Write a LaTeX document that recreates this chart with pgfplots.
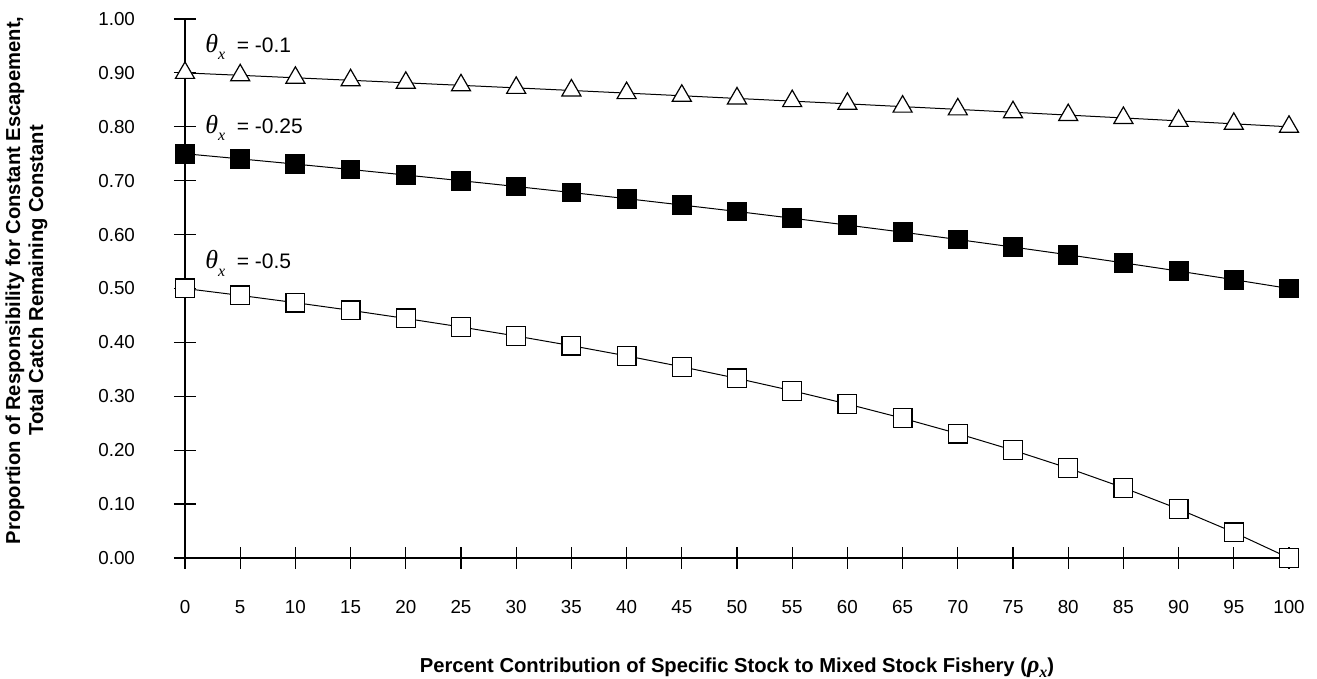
\documentclass[border=0pt]{standalone}
\usepackage{pgfplots}
\pgfplotsset{compat=1.18}
\usepackage{fontspec}
\setmainfont{Liberation Sans}
\newfontfamily\tnr{Liberation Serif}
\newcommand{\thx}{{\tnr\itshape\fontsize{13}{13}\selectfont θ}\raisebox{-3.8pt}{\tnr\itshape\fontsize{8}{8}\selectfont x}}
\begin{document}
\begin{tikzpicture}
\begin{axis}[
  scale only axis, width=552pt, height=269.5pt,
  xmin=0, xmax=100, ymin=0, ymax=1,
  axis x line=bottom, axis y line=left,
  axis line style={-, line width=0.7pt},
  clip=false,
  xtick={0,5,...,100},
  ytick={0,0.1,...,1.0},
  tick align=center, major tick length=11pt,
  tick style={line width=0.6pt, black},
  /pgf/number format/assume math mode=true,
  ticklabel style={font=\fontsize{9.4}{11}\selectfont},
  yticklabel style={/pgf/number format/fixed, /pgf/number format/fixed zerofill, /pgf/number format/precision=2, anchor=east, xshift=-16pt},
  xticklabel style={anchor=center, yshift=-19pt},
  ylabel={Proportion of Responsibility for Constant Escapement,\\Total Catch Remaining Constant},
  ylabel style={at={(axis description cs:-0.1436,0.515)}, anchor=center, align=center, font=\fontsize{10.1}{11.5}\selectfont\bfseries},
  xlabel={Percent Contribution of Specific Stock to Mixed Stock Fishery ({\tnr\itshape\fontsize{12}{12}\selectfont ρ}\raisebox{-2.5pt}{\tnr\itshape\fontsize{8}{8}\selectfont x})},
  xlabel style={at={(axis description cs:0.5,-0.203)}, anchor=center, font=\fontsize{10.1}{11}\selectfont\bfseries},
]
\coordinate (O) at (rel axis cs:0,0);
\addplot[black, line width=0.5pt, mark=triangle*, mark size=5.5pt, mark options={fill=white, line width=0.6pt}] coordinates {
(0,0.9) (5,0.8955) (10,0.8909) (15,0.8863) (20,0.8816) (25,0.8769) (30,0.8722) (35,0.8674) (40,0.8625) (45,0.8576) (50,0.8526) (55,0.8476) (60,0.8426) (65,0.8374) (70,0.8323) (75,0.8270) (80,0.8217) (85,0.8164) (90,0.8110) (95,0.8055) (100,0.8)
};
\addplot[black, line width=0.5pt, mark=square*, mark size=4.7pt, mark options={fill=black}] coordinates {
(0,0.75) (5,0.7405) (10,0.7308) (15,0.7208) (20,0.7105) (25,0.7) (30,0.6892) (35,0.6781) (40,0.6667) (45,0.6549) (50,0.6429) (55,0.6304) (60,0.6176) (65,0.6045) (70,0.5909) (75,0.5769) (80,0.5625) (85,0.5476) (90,0.5323) (95,0.5164) (100,0.5)
};
\addplot[black, line width=0.5pt, mark=square*, mark size=4.7pt, mark options={fill=white, line width=0.6pt}] coordinates {
(0,0.5) (5,0.4872) (10,0.4737) (15,0.4595) (20,0.4444) (25,0.4286) (30,0.4118) (35,0.3939) (40,0.375) (45,0.3548) (50,0.3333) (55,0.3103) (60,0.2857) (65,0.2593) (70,0.2308) (75,0.2) (80,0.1667) (85,0.1304) (90,0.0909) (95,0.0476) (100,0)
};
\node[anchor=west, inner sep=0pt, font=\fontsize{10.5}{12}\selectfont] at (axis cs:1.8,0.948) {\thx\ \ = -0.1};
\node[anchor=west, inner sep=0pt, font=\fontsize{10.5}{12}\selectfont] at (axis cs:1.8,0.798) {\thx\ \ = -0.25};
\node[anchor=west, inner sep=0pt, font=\fontsize{10.5}{12}\selectfont] at (axis cs:1.8,0.547) {\thx\ \ = -0.5};
\end{axis}
\pgfresetboundingbox
\path (O) ++(-92.5pt,-60.5pt) rectangle ++(658.5pt,339.5pt);
\end{tikzpicture}
\end{document}
